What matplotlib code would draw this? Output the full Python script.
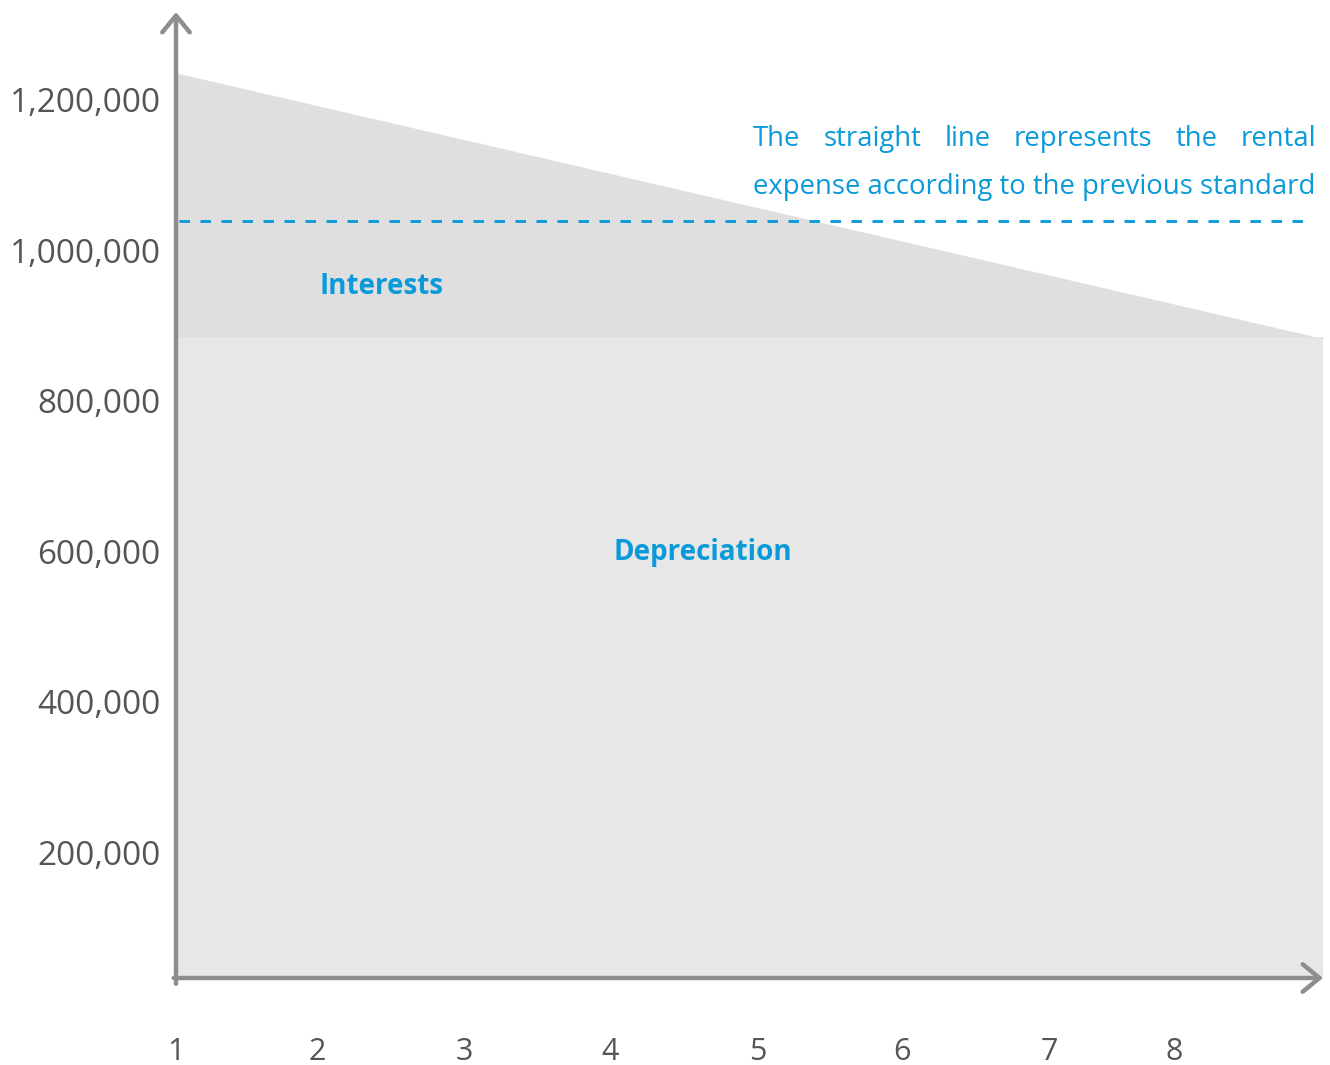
import matplotlib
matplotlib.use("Agg")
import matplotlib.pyplot as plt
import numpy as np

# ---- data ----
period_start = 1.0
period_end = 8.88
depreciation = [885000, 885000]          # constant depreciation
total_expense = [1236000, 883000]        # depreciation + interests (declining)
straight_line_rent = 1039000             # previous standard rental expense
y_ticks = [200000, 400000, 600000, 800000, 1000000, 1200000]
y_tick_labels = ["200,000", "400,000", "600,000", "800,000", "1,000,000", "1,200,000"]
x_tick_pos = [1, 1.97, 2.98, 3.98, 5.0, 5.99, 7.0, 7.86]
x_tick_labels = ["1", "2", "3", "4", "5", "6", "7", "8"]

plt.rcParams['font.family'] = ['Open Sans', 'DejaVu Sans']

W, H = 1330, 1065
fig = plt.figure(figsize=(W / 100, H / 100), dpi=100)
ax = fig.add_axes([176 / W, (H - 978) / H, (1323 - 176) / W, (978 - 12) / H])

xs = [period_start, period_end]
blue = '#0a9ad9'
grey_axis = '#8e8e8e'
label_col = '#555555'

ax.fill_between(xs, 0, depreciation, color='#e7e7e7', lw=0, zorder=1)
ax.fill_between(xs, depreciation, total_expense, color='#dfdfdf', lw=0, zorder=1)

ax.plot([period_start + 0.02, 8.76], [straight_line_rent] * 2, color='#0b9bdb', lw=2.1,
        dashes=(3.6, 3.6), solid_capstyle='butt', dash_capstyle='butt', zorder=3)

ax.set_xlim(period_start, period_end)
ax.set_ylim(33200, 1316900)

for s in ax.spines.values():
    s.set_visible(False)

ax.set_yticks(y_ticks)
ax.set_yticklabels(y_tick_labels, fontsize=24, color=label_col)
ax.tick_params(axis='y', length=0, pad=11)
ax.set_xticks(x_tick_pos)
ax.set_xticklabels(x_tick_labels, fontsize=22, color=label_col)
ax.tick_params(axis='x', length=0, pad=42.5)

# axes with arrow heads
arrow_kw = dict(arrowstyle='->,head_length=0.55,head_width=0.45', color=grey_axis,
                lw=3.2, mutation_scale=22, shrinkA=0, shrinkB=0)
ax.annotate('', xy=(0, 1.0), xytext=(0, -0.006), xycoords='axes fraction',
            textcoords='axes fraction', arrowprops=arrow_kw, annotation_clip=False, zorder=5)
ax.annotate('', xy=(1.0, 0), xytext=(-0.002, 0), xycoords='axes fraction',
            textcoords='axes fraction', arrowprops=arrow_kw, annotation_clip=False, zorder=5)

# labels inside areas
ax.text(2.41, 951500, 'Interests', color=blue, fontsize=20,
        fontweight='bold', ha='center', va='center')
ax.text(4.62, 598000, 'Depreciation', color=blue, fontsize=20,
        fontweight='bold', ha='center', va='center')

# justified two-line note
note1 = "The straight line represents the rental".split()
note2 = "expense according to the previous standard"
fs_note = 19.8
x_left_px, x_right_px = 753, 1316
t2 = fig.text(x_left_px / W, 1 - 187 / H, note2, color=blue, fontsize=fs_note,
              ha='left', va='center')
fig.canvas.draw()
r = fig.canvas.get_renderer()
widths = []
tmp = []
for w in note1:
    t = fig.text(0, 0, w, fontsize=fs_note)
    widths.append(t.get_window_extent(r).width)
    tmp.append(t)
for t in tmp:
    t.remove()
gap = (x_right_px - x_left_px - sum(widths)) / (len(note1) - 1)
xp = x_left_px
for w, wd in zip(note1, widths):
    fig.text(xp / W, 1 - 139 / H, w, color=blue, fontsize=fs_note, ha='left', va='center')
    xp += wd + gap

fig.savefig('out.png', dpi=100)
